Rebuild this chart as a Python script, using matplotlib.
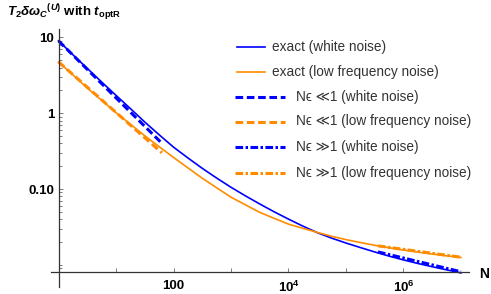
import matplotlib
matplotlib.use('Agg')
import matplotlib.pyplot as plt
from matplotlib.lines import Line2D
from matplotlib.ticker import FixedLocator, NullFormatter, FixedFormatter

plt.rcParams['font.family'] = ['Liberation Sans', 'DejaVu Sans']
plt.rcParams['mathtext.fontset'] = 'custom'
plt.rcParams['mathtext.rm'] = 'Liberation Sans:bold'
plt.rcParams['mathtext.it'] = 'Liberation Sans:italic:bold'
plt.rcParams['mathtext.bf'] = 'Liberation Sans:bold'

# values
N_exact = [1, 1.78, 3.16, 5.62, 10, 17.8, 31.6, 56.2, 100, 178, 316, 562,
           1e3, 1.78e3, 3.16e3, 5.62e3, 1e4, 1.78e4, 3.16e4, 5.62e4,
           1e5, 1.78e5, 3.16e5, 5.62e5, 1e6, 1.78e6, 3.16e6, 5.62e6, 1e7]
white_exact = [9.02, 5.90, 3.90, 2.58, 1.72, 1.15, 0.765, 0.52, 0.357, 0.257,
               0.1875, 0.1396, 0.1054, 0.0813, 0.0635, 0.0501, 0.0401, 0.0324,
               0.0266, 0.0225, 0.0194, 0.0169, 0.01479, 0.01303, 0.01161,
               0.01042, 0.00944, 0.00859, 0.00782]
lowf_exact = [4.75, 3.20, 2.15, 1.479, 1.016, 0.714, 0.504, 0.362, 0.261, 0.190,
              0.1387, 0.1040, 0.0780, 0.0619, 0.0492, 0.0411, 0.0344, 0.0303,
              0.0268, 0.0238, 0.0215, 0.0197, 0.0181, 0.0168, 0.01567,
              0.01472, 0.01387, 0.01315, 0.01250]

N_small = [1, 63]
white_small = [9.0, 0.40]
lowf_small = [4.75, 0.30]

N_large = [3.6e5, 1e7]
white_large = [0.0148, 0.0081]
lowf_large = [0.0178, 0.0126]

labels = ['exact (white noise)', 'exact (low frequency noise)',
          'N\u03f5 \u226a1 (white noise)', 'N\u03f5 \u226a1 (low frequency noise)',
          'N\u03f5 \u226b1 (white noise)', 'N\u03f5 \u226b1 (low frequency noise)']

blue = '#0000ff'
orange = '#ff8c00'
axcol = '#333333'
dash = (0, (2.5, 1.2))
dashdot = (0, (2.5, 0.8, 0.8, 0.8))

W, H = 491, 294
fig = plt.figure(figsize=(W / 100, H / 100), dpi=100)
ax = fig.add_axes([51 / W, 1 - 287 / H, 418 / W, 258 / H])

ax.plot(N_exact, white_exact, color=blue, lw=1.2)
ax.plot(N_exact, lowf_exact, color=orange, lw=1.2)
ax.plot(N_small, white_small, color=blue, lw=2.2, ls=dash)
ax.plot(N_small, lowf_small, color=orange, lw=2.2, ls=dash)
ax.plot(N_large, white_large, color=blue, lw=2.2, ls=dashdot)
ax.plot(N_large, lowf_large, color=orange, lw=2.2, ls=dashdot)

ax.set_xscale('log')
ax.set_yscale('log')
ax.set_xlim(0.74, 1.38e7)
ax.set_ylim(0.0051, 12.9)

for s in ['top', 'right']:
    ax.spines[s].set_visible(False)
ax.spines['left'].set_position(('data', 1))
ax.spines['bottom'].set_position(('data', 0.0081))
for s in ['left', 'bottom']:
    ax.spines[s].set_color(axcol)
    ax.spines[s].set_linewidth(0.9)

xt = [10, 100, 1e3, 1e4, 1e5, 1e6]
xl = ['', '100', '', '$10^4$', '', '$10^6$']
ax.xaxis.set_major_locator(FixedLocator(xt))
ax.xaxis.set_major_formatter(FixedFormatter(xl))
ax.xaxis.set_minor_locator(FixedLocator([]))

yt = [0.1, 1, 10]
yl = ['0.10', '1', '10']
ax.yaxis.set_major_locator(FixedLocator(yt))
ax.yaxis.set_major_formatter(FixedFormatter(yl))
ymin = [k * 10.0 ** d for d in range(-3, 2) for k in range(1, 10)]
ymin = [v for v in ymin if 0.0081 < v < 12.9 and v not in yt]
ax.yaxis.set_minor_locator(FixedLocator(ymin))
ax.yaxis.set_minor_formatter(NullFormatter())

ax.tick_params(which='both', direction='in', color='#666666', width=0.6)
ax.tick_params(which='major', length=3.2, labelsize=9.5)
ax.tick_params(axis='x', which='major', pad=6)
ax.tick_params(axis='y', which='major', pad=3)
ax.tick_params(which='minor', length=1.8)
for t in ax.get_xticklabels() + ax.get_yticklabels():
    t.set_fontweight('bold')

fig.text(484 / W, 1 - 274 / H, 'N', fontsize=10, fontweight='bold', ha='center', va='center')
fig.text(7 / W, 1 - 2 / H, r'$T_2\delta{\omega_C}^{(U)}$ with $t_{\mathrm{optR}}$',
         fontsize=9.5, fontweight='bold', ha='left', va='top')

# legend drawn by hand (Mathematica style)
rows = [46.7, 72.3, 96.7, 121.5, 146.7, 172.5]
colors = [blue, orange, blue, orange, blue, orange]
styles = ['-', '-', dash, dash, dashdot, dashdot]
widths = [1.2, 1.2, 2.2, 2.2, 2.2, 2.2]
for i, lab in enumerate(labels):
    y = 1 - rows[i] / H
    if i < 2:
        x0, x1, xt0 = 236.7, 265, 271.7
    else:
        x0, x1, xt0 = 235, 285, 296
    fig.add_artist(Line2D([x0 / W, x1 / W], [y, y], transform=fig.transFigure,
                          color=colors[i], lw=widths[i], ls=styles[i]))
    fig.text(xt0 / W, y, lab, fontsize=9.8, color='#333333', ha='left', va='center')

fig.savefig('out.png', dpi=100)
